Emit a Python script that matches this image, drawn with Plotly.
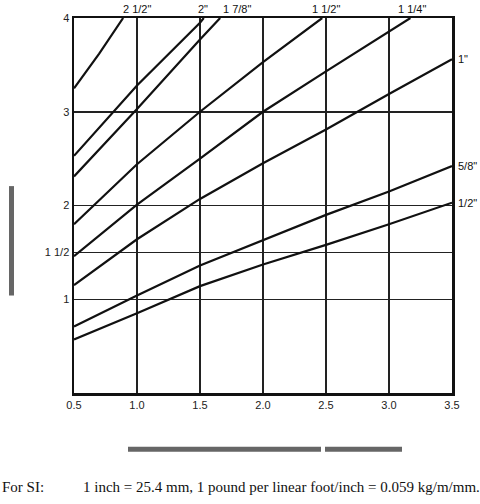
import plotly.graph_objects as go

# ---- data ----
series_names = ['2 1/2"', '2"', '1 7/8"', '1 1/2"', '1 1/4"', '1"', '5/8"', '1/2"']

x_2_1_2 = [0.5, 0.7, 0.89]
y_2_1_2 = [3.25, 3.62, 4.0]

x_2 = [0.5, 1.0, 1.5, 1.53]
y_2 = [2.53, 3.28, 3.95, 4.0]

x_1_7_8 = [0.5, 1.0, 1.5, 1.66]
y_1_7_8 = [2.31, 3.03, 3.77, 4.0]

x_1_1_2 = [0.5, 1.0, 1.5, 2.0, 2.47]
y_1_1_2 = [1.80, 2.44, 3.00, 3.53, 4.0]

x_1_1_4 = [0.5, 1.0, 1.5, 2.0, 2.5, 3.0, 3.17]
y_1_1_4 = [1.46, 2.01, 2.50, 3.00, 3.43, 3.86, 4.0]

x_1 = [0.5, 1.0, 1.5, 2.0, 2.5, 3.0, 3.5]
y_1 = [1.15, 1.64, 2.07, 2.45, 2.81, 3.19, 3.56]

x_5_8 = [0.5, 1.0, 1.5, 2.0, 2.5, 3.0, 3.5]
y_5_8 = [0.71, 1.04, 1.36, 1.63, 1.90, 2.15, 2.42]

x_1_2 = [0.5, 1.0, 1.5, 2.0, 2.5, 3.0, 3.5]
y_1_2 = [0.57, 0.85, 1.14, 1.37, 1.58, 1.80, 2.03]

x_ticks = [0.5, 1.0, 1.5, 2.0, 2.5, 3.0, 3.5]
x_ticktext = ["0.5", "1.0", "1.5", "2.0", "2.5", "3.0", "3.5"]
y_ticks = [1, 1.5, 2, 3, 4]
y_ticktext = ["1", "1 1/2", "2", "3", "4"]

footnote_head = "For SI:"
footnote_body = "1 inch = 25.4 mm, 1 pound per linear foot/inch = 0.059 kg/m/mm."

series_x = [x_2_1_2, x_2, x_1_7_8, x_1_1_2, x_1_1_4, x_1, x_5_8, x_1_2]
series_y = [y_2_1_2, y_2, y_1_7_8, y_1_1_2, y_1_1_4, y_1, y_5_8, y_1_2]

# ---- layout geometry (screen pixels; body margin removed below) ----
W, H = 480, 504
PL, PR, PT, PB = 74, 452, 16, 393          # plot frame on screen
PW, PH = PR - PL, PB - PT
ML, MT = PL, PT
MR = W - ML - PW
MB = H - MT - PH


def px(xs):
    return (xs - PL) / PW


def py(ys):
    return (PB - ys) / PH


fig = go.Figure()
for xs, ys, name in zip(series_x, series_y, series_names):
    fig.add_trace(go.Scatter(x=xs, y=ys, mode="lines", name=name,
                             line=dict(color="#111111", width=2.2),
                             showlegend=False, hoverinfo="skip"))

font_sans = "Liberation Sans, Arial, sans-serif"
font_serif = "Liberation Serif, Times New Roman, serif"
annotations = []
top_label_x = {'2 1/2"': 1.0, '2"': 1.52, '1 7/8"': 1.79, '1 1/2"': 2.5, '1 1/4"': 3.18}
for name in series_names:
    if name in top_label_x:
        annotations.append(dict(x=top_label_x[name], y=1, xref="x", yref="paper",
                                text=name, showarrow=False, xanchor="center",
                                yanchor="bottom", yshift=1,
                                font=dict(family=font_sans, size=11, color="#111")))
for name, ys in zip(series_names, series_y):
    if name not in top_label_x:
        annotations.append(dict(x=1, y=ys[-1], xref="paper", yref="y",
                                text=name, showarrow=False, xanchor="left",
                                yanchor="middle", xshift=4,
                                font=dict(family=font_sans, size=11, color="#111")))

annotations.append(dict(x=px(0), y=py(487), xref="paper", yref="paper",
                        text=footnote_head, showarrow=False, xanchor="left",
                        yanchor="middle",
                        font=dict(family=font_serif, size=15, color="#111")))
annotations.append(dict(x=px(81), y=py(487), xref="paper", yref="paper",
                        text=footnote_body, showarrow=False, xanchor="left",
                        yanchor="middle",
                        font=dict(family=font_serif, size=15, color="#111")))

bar_color = "#666666"
shapes = [
    dict(type="rect", xref="paper", yref="paper", x0=px(9), x1=px(14),
         y0=py(295), y1=py(185), fillcolor=bar_color, line=dict(width=0)),
    dict(type="rect", xref="paper", yref="paper", x0=px(128), x1=px(321),
         y0=py(452), y1=py(447), fillcolor=bar_color, line=dict(width=0)),
    dict(type="rect", xref="paper", yref="paper", x0=px(325), x1=px(402),
         y0=py(452), y1=py(447), fillcolor=bar_color, line=dict(width=0)),
]

fig.update_layout(
    width=W, height=H,
    margin=dict(l=ML, r=MR, t=MT, b=MB, pad=0),
    paper_bgcolor="white", plot_bgcolor="white",
    annotations=annotations, shapes=shapes,
    xaxis=dict(range=[0.5, 3.5], tickvals=x_ticks, ticktext=x_ticktext,
               showgrid=True, gridcolor="#222222", gridwidth=1.5,
               showline=True, linecolor="#111111", linewidth=2.5, mirror=True,
               zeroline=False, ticks="", ticklen=0,
               tickfont=dict(family=font_sans, size=11, color="#222")),
    yaxis=dict(range=[0, 4], tickvals=y_ticks, ticktext=y_ticktext,
               showgrid=True, gridcolor="#222222", gridwidth=1.5,
               showline=True, linecolor="#111111", linewidth=2.5, mirror=True,
               zeroline=False, ticks="", ticklen=0,
               tickfont=dict(family=font_sans, size=11, color="#222")),
)

fig.write_html("out.html",
               config={"displayModeBar": False, "staticPlot": True},
               post_script="document.body.style.margin='0px';"
                           "document.body.style.overflow='hidden';")
